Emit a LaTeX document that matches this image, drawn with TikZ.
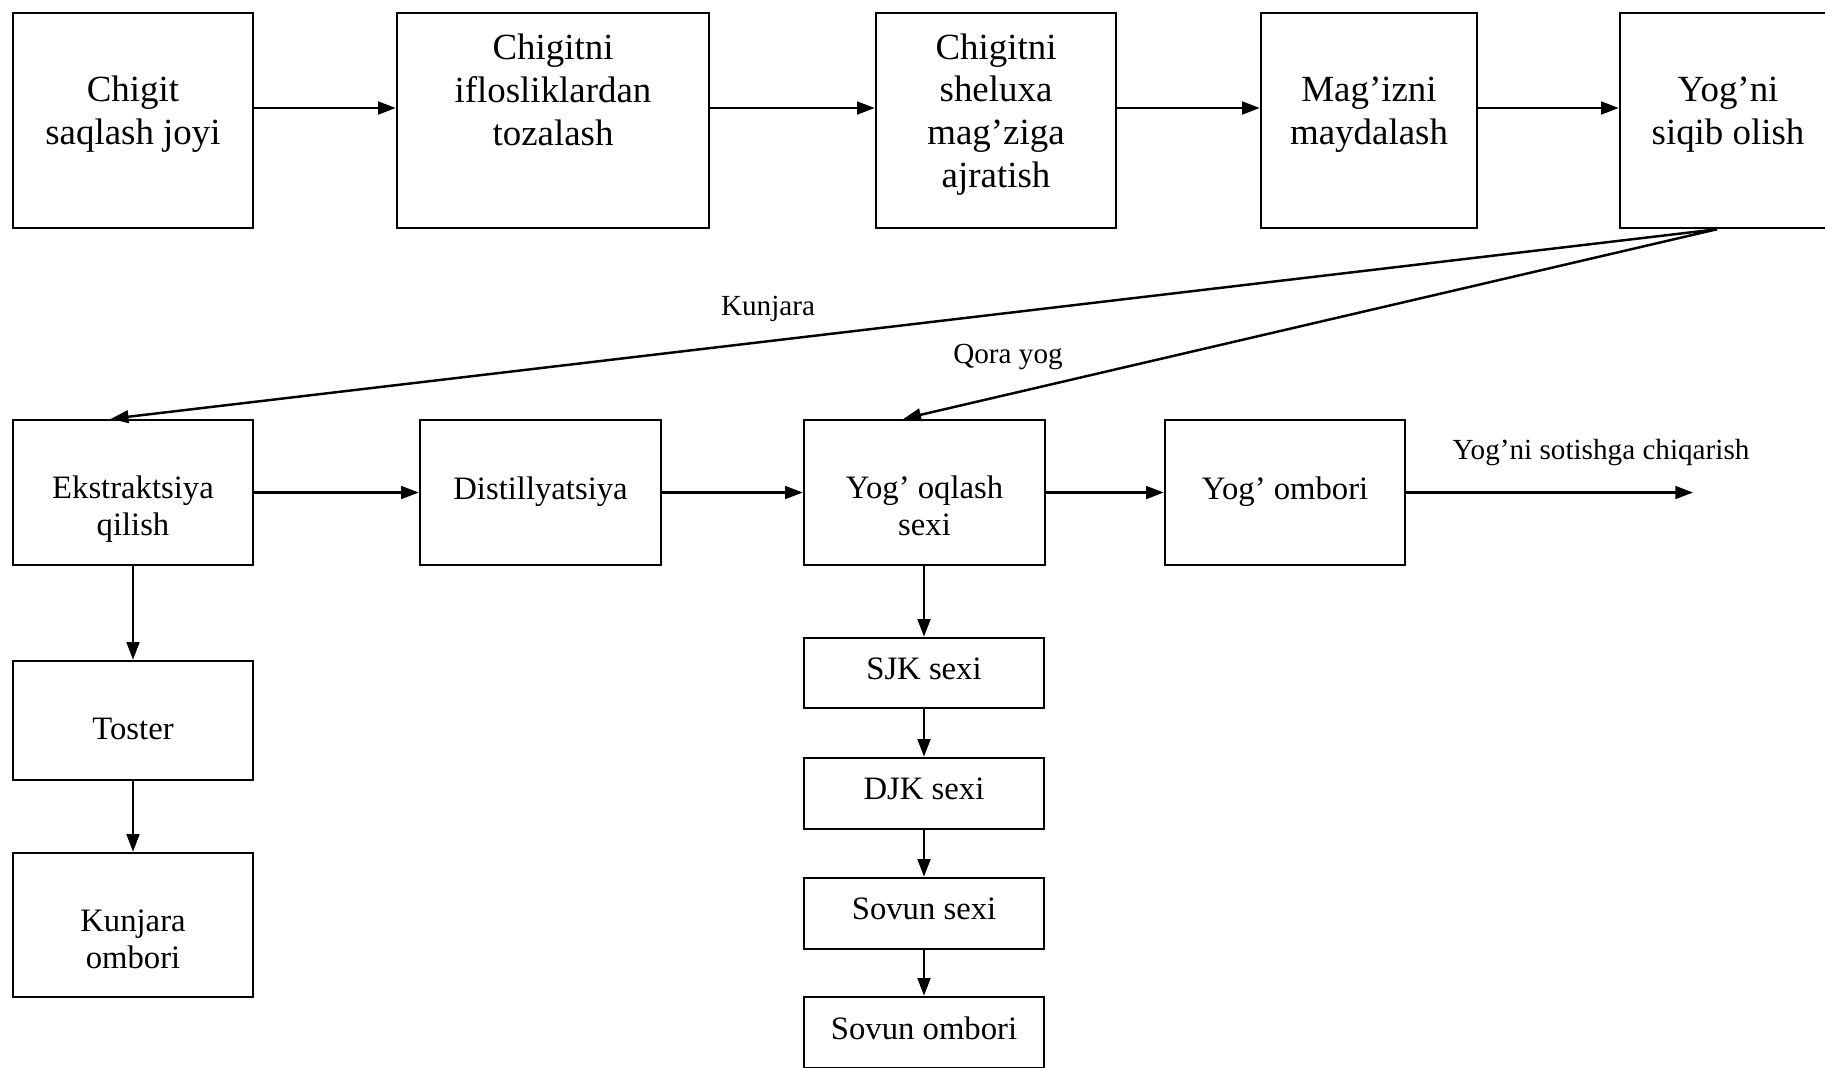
\documentclass[tikz,border=0pt]{standalone}
\usepackage{fontspec}
\setmainfont{Liberation Serif}
\usetikzlibrary{arrows.meta}
\begin{document}
\begin{tikzpicture}[
  box/.style={draw, line width=0.7pt, inner sep=0pt},
  big/.style={align=center, font=\fontsize{10.5}{12.2}\selectfont},
  small/.style={align=center, font=\fontsize{9.3}{10.5}\selectfont},
  note/.style={font=\fontsize{8.3}{10}\selectfont, inner sep=0pt},
  arr/.style={line width=0.7pt, -{Triangle[length=5pt,width=3.6pt]}}]
\useasboundingbox (0,0) rectangle (18.25,-10.67);
% top row
\node[box, minimum width=2.4cm, minimum height=2.15cm] (saqlash) at (1.33,-1.205) {};
\node[big] (saqlash-t) at (1.33,-1.145) {Chigit\\saqlash joyi};
\node[box, minimum width=3.12cm, minimum height=2.15cm] (tozalash) at (5.53,-1.205) {};
\node[big] (tozalash-t) at (5.53,-0.90) {Chigitni\\iflosliklardan\\tozalash};
\node[box, minimum width=2.4cm, minimum height=2.15cm] (ajratish) at (9.96,-1.205) {};
\node[big] (ajratish-t) at (9.96,-1.145) {Chigitni\\sheluxa\\mag’ziga\\ajratish};
\node[box, minimum width=2.16cm, minimum height=2.15cm] (maydalash) at (13.69,-1.205) {};
\node[big] (maydalash-t) at (13.69,-1.145) {Mag’izni\\maydalash};
\node[box, minimum width=2.16cm, minimum height=2.15cm] (siqib) at (17.28,-1.205) {};
\node[big] (siqib-t) at (17.28,-1.145) {Yog’ni\\siqib olish};
\draw[arr] ([yshift=1.25mm]saqlash.east) -- ([yshift=1.25mm]tozalash.west);
\draw[arr] ([yshift=1.25mm]tozalash.east) -- ([yshift=1.25mm]ajratish.west);
\draw[arr] ([yshift=1.25mm]ajratish.east) -- ([yshift=1.25mm]maydalash.west);
\draw[arr] ([yshift=1.25mm]maydalash.east) -- ([yshift=1.25mm]siqib.west);
% second row
\node[box, minimum width=2.4cm, minimum height=1.45cm] (ekstr) at (1.33,-4.925) {};
\node[small] (ekstr-t) at (1.33,-5.095) {Ekstraktsiya\\qilish};
\node[box, minimum width=2.41cm, minimum height=1.45cm] (dist) at (5.405,-4.925) {};
\node[small] (dist-t) at (5.405,-4.912) {Distillyatsiya};
\node[box, minimum width=2.41cm, minimum height=1.45cm] (oqlash) at (9.245,-4.925) {};
\node[small] (oqlash-t) at (9.245,-5.06) {Yog’ oqlash\\sexi};
\node[box, minimum width=2.4cm, minimum height=1.45cm] (yombori) at (12.85,-4.925) {};
\node[small] (yombori-t) at (12.85,-4.912) {Yog’ ombori};
\coordinate (sotish) at (16.93,-4.925);
\draw[arr] (ekstr) -- (dist);
\draw[arr] (dist) -- (oqlash);
\draw[arr] (oqlash) -- (yombori);
\draw[arr] (yombori) -- (sotish);
\node[note] (sotish-t) at (16.01,-4.525) {Yog’ni sotishga chiqarish};
% from the press
\draw[arr] ([xshift=-1.1mm]siqib.south) -- ([xshift=-2.2mm]ekstr.north);
\draw[arr] ([xshift=-1.1mm]siqib.south) -- ([xshift=-2.1mm]oqlash.north);
\node[note] (kunjara-t) at (7.68,-3.085) {Kunjara};
\node[note] (qora-t) at (10.08,-3.565) {Qora yog};
% left column
\node[box, minimum width=2.4cm, minimum height=1.19cm] (toster) at (1.33,-7.205) {};
\node[small] (toster-t) at (1.33,-7.286) {Toster};
\node[box, minimum width=2.4cm, minimum height=1.44cm] (kombori) at (1.33,-9.25) {};
\node[small] (kombori-t) at (1.33,-9.395) {Kunjara\\ombori};
\draw[arr] (ekstr) -- (toster);
\draw[arr] (toster) -- (kombori);
% right column
\node[box, minimum width=2.4cm, minimum height=0.70cm] (sjk) at (9.24,-6.73) {};
\node[small] (sjk-t) at (9.24,-6.69) {SJK sexi};
\node[box, minimum width=2.4cm, minimum height=0.71cm] (djk) at (9.24,-7.935) {};
\node[small] (djk-t) at (9.24,-7.89) {DJK sexi};
\node[box, minimum width=2.4cm, minimum height=0.71cm] (sovs) at (9.24,-9.135) {};
\node[small] (sovs-t) at (9.24,-9.09) {Sovun sexi};
\node[box, minimum width=2.4cm, minimum height=0.71cm] (sovo) at (9.24,-10.325) {};
\node[small] (sovo-t) at (9.24,-10.28) {Sovun ombori};
\draw[arr] (oqlash.south -| sjk.north) -- (sjk.north);
\draw[arr] (sjk) -- (djk);
\draw[arr] (djk) -- (sovs);
\draw[arr] (sovs) -- (sovo);
\end{tikzpicture}
\end{document}
